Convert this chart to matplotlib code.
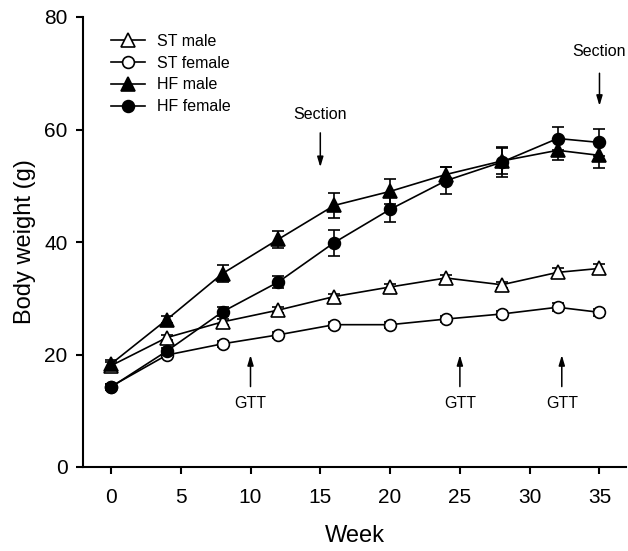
import matplotlib
matplotlib.use("Agg")
import matplotlib.pyplot as plt
from matplotlib.lines import Line2D

plt.rcParams['font.family'] = ['Liberation Sans', 'DejaVu Sans']

weeks = [0, 4, 8, 12, 16, 20, 24, 28, 32, 35]

st_male = [18.0, 23.0, 25.8, 27.9, 30.3, 32.0, 33.6, 32.4, 34.6, 35.3]
st_male_err = [0.6, 0.5, 0.5, 0.5, 0.5, 0.5, 0.6, 0.5, 0.7, 0.8]
st_female = [14.3, 19.9, 21.9, 23.5, 25.3, 25.3, 26.3, 27.2, 28.4, 27.5]
st_female_err = [0.4, 0.5, 0.5, 0.5, 0.5, 0.5, 0.6, 0.6, 0.7, 0.6]
hf_male = [18.3, 26.2, 34.4, 40.5, 46.5, 49.0, 52.0, 54.4, 56.3, 55.4]
hf_male_err = [0.8, 0.6, 1.5, 1.5, 2.2, 2.2, 1.4, 2.3, 1.7, 2.2]
hf_female = [14.2, 20.6, 27.6, 32.9, 39.9, 45.8, 50.9, 54.2, 58.4, 57.7]
hf_female_err = [0.5, 0.6, 0.8, 1.1, 2.3, 2.3, 2.4, 2.7, 2.1, 2.4]

labels = ["ST male", "ST female", "HF male", "HF female"]

section_weeks = [15, 35]
section_tip = [53.3, 64.2]
section_tail = [59.4, 70.0]
section_text_y = [62.6, 73.8]
gtt_weeks = [10, 25, 32.3]
gtt_tip = 19.9
gtt_tail = 14.3
gtt_text_y = 11.2

fig = plt.figure(figsize=(6.28, 5.51), dpi=100)
ax = fig.add_axes([83/628, 1-467/551, (626-83)/628, (467-17)/551])

lw = 1.2
common = dict(color='black', linewidth=lw, capsize=4, elinewidth=lw, capthick=lw,
              markeredgewidth=1.2, markeredgecolor='black')
styles = [('^', 10, 'white'), ('o', 8.5, 'white'), ('^', 10, 'black'), ('o', 8.5, 'black')]
series = [st_male, st_female, hf_male, hf_female]
errs = [st_male_err, st_female_err, hf_male_err, hf_female_err]
handles = []
for i, (vals, err, (mk, ms, fc), lab) in enumerate(zip(series, errs, styles, labels)):
    ax.errorbar(weeks, vals, yerr=err, marker=mk, markersize=ms,
                markerfacecolor=fc, zorder=3 + i // 2, **common)
    handles.append(Line2D([], [], color='black', linewidth=lw, marker=mk, markersize=ms,
                          markerfacecolor=fc, markeredgecolor='black',
                          markeredgewidth=1.2, label=lab))

arrowprops = dict(arrowstyle='-|>,head_length=0.6,head_width=0.18', color='black', lw=1.1,
                  shrinkA=0, shrinkB=0)
for w, tip, tail, ty in zip(section_weeks, section_tip, section_tail, section_text_y):
    ax.annotate('', xy=(w, tip), xytext=(w, tail), arrowprops=arrowprops)
    ax.text(w, ty, 'Section', ha='center', va='center', fontsize=11.5)
for w in gtt_weeks:
    ax.annotate('', xy=(w, gtt_tip), xytext=(w, gtt_tail), arrowprops=arrowprops)
    ax.text(w, gtt_text_y, 'GTT', ha='center', va='center', fontsize=11.5)

ax.set_xlim(-2, 36.9)
ax.set_ylim(0, 80)
ax.set_xticks([0, 5, 10, 15, 20, 25, 30, 35])
ax.set_yticks([0, 20, 40, 60, 80])
ax.tick_params(axis='both', direction='out', length=5, width=1.5, labelsize=15, pad=6)
ax.tick_params(axis='x', pad=10)
for s in ['top', 'right']:
    ax.spines[s].set_visible(False)
for s in ['left', 'bottom']:
    ax.spines[s].set_linewidth(1.5)

ax.set_xlabel('Week', fontsize=17, labelpad=13)
ax.set_ylabel('Body weight (g)', fontsize=17, labelpad=6)

leg = ax.legend(handles=handles, loc='upper left',
                bbox_to_anchor=(111/628, 1-34/551), bbox_transform=fig.transFigure,
                frameon=False, fontsize=11.5, handlelength=2.1, handletextpad=0.8,
                labelspacing=0.42, borderpad=0, borderaxespad=0)

fig.savefig('out.png', dpi=100)
